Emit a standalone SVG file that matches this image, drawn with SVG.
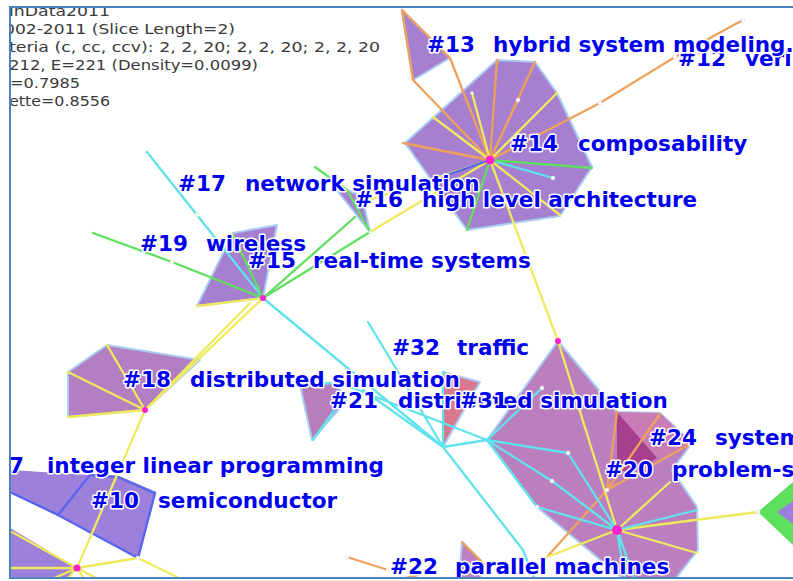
<svg xmlns="http://www.w3.org/2000/svg" width="793" height="581" viewBox="0 0 793 581">
<defs>
<style>
.hull{stroke:#a9cdf2;stroke-width:2;stroke-linejoin:round}
.p1{fill:#a77fd0}.p2{fill:#b47fc2}.p3{fill:#bb7fc0}.p4{fill:#9c80dc}
.e{fill:none;stroke-linecap:round;stroke-linejoin:round;stroke-width:2.3}
.o{stroke:#eea15a}.y{stroke:#efe95e}.c{stroke:#5fe3ec}.g{stroke:#5fe05f}.b{stroke:#5363ec}
.hub{fill:#ff22cc}
.dot{fill:#fff;stroke:#d8d8d8;stroke-width:0.6}
.lbl{font-family:"DejaVu Sans",Verdana,sans-serif;font-weight:bold;font-size:21.5px;fill:#0000ee;stroke:#fff;stroke-width:3;paint-order:stroke;stroke-linejoin:round}
.info{font-family:"DejaVu Sans",sans-serif;font-size:13.5px;fill:#3a3a3a}
.frame{fill:none;stroke:#4f81bd;stroke-width:2}
</style>
<clipPath id="clip"><rect x="11" y="8" width="782" height="569"/></clipPath>
</defs>
<rect width="793" height="581" fill="#fff"/>
<g clip-path="url(#clip)">
<g id="info">
<text class="info" x="9" y="15.5" textLength="101" lengthAdjust="spacingAndGlyphs">inData2011</text>
<text class="info" x="4" y="33.5" textLength="231" lengthAdjust="spacingAndGlyphs">002-2011 (Slice Length=2)</text>
<text class="info" x="9" y="51.5" textLength="371" lengthAdjust="spacingAndGlyphs">teria (c, cc, ccv): 2, 2, 20; 2, 2, 20; 2, 2, 20</text>
<text class="info" x="9" y="69.5" textLength="249" lengthAdjust="spacingAndGlyphs">212, E=221 (Density=0.0099)</text>
<text class="info" x="10" y="87.5" textLength="70" lengthAdjust="spacingAndGlyphs">=0.7985</text>
<text class="info" x="9" y="105.5" textLength="101" lengthAdjust="spacingAndGlyphs">ette=0.8556</text>
</g>
<g id="cluster-13"><polygon class="hull p1" points="402,10 450,58 413,80"/></g>
<g id="cluster-14"><polygon class="hull p1" points="497,60 535,62 557,93 592,167 560,216 467,230 405,143"/></g>
<g id="cluster-16"><polygon class="hull p1" points="332,184 362,196 370,232"/></g>
<g id="cluster-15"><polygon class="hull p1" points="233,233 277,225 263,298 197,306"/></g>
<g id="cluster-18"><polygon class="hull p2" points="107,345 200,360 145,410 68,417 68,372"/></g>
<g id="cluster-21"><polygon class="hull" fill="#b87ebc" points="300,385 336,383 347,400 312,440"/></g>
<g id="cluster-31"><polygon class="hull" fill="#d8798f" points="443,372 480,382 443,447"/></g>
<g id="cluster-20"><polygon class="hull p3" points="558,341 617,412 660,413 692,443 672,470 697,507 698,550 676,578 622,578 537,507 487,440"/></g>
<g id="cluster-24"><polygon fill="#c97db4" points="617,412 660,413 692,443 657,458"/><polygon fill="#a53f8e" points="617,412 657,458 633,472 617,470"/></g>
<g id="cluster-22"><polygon class="hull" fill="#c080c4" points="462,542 484,564 480,578 459,578"/></g>
<g id="cluster-7"><polygon fill="#9c80dc" points="10,470 90,475 58,515 10,493"/></g>
<g id="cluster-10"><polygon fill="#9c80dc" stroke="#5a66ee" stroke-width="2.5" stroke-linejoin="round" points="90,475 118,477 155,493 138,558 58,515"/></g>
<g id="cluster-bl"><polygon fill="#9c80dc" points="10,528 77,568 68,578 10,578"/></g>
<g id="cluster-right"><polygon fill="#5ee05e" points="758,512 793,482 793,545"/><polygon fill="#9a80dc" points="777,512 793,501 793,524"/></g>

<g id="connectors">
<path class="e o" d="M490,160L403,143M490,160L450,58M490,160L413,80M402,10L450,58M402,10L413,80M490,160L497,60M490,160L535,62M490,160L518,100M490,160L600,103"/>
<path class="e o" stroke-width="3" d="M600,103L675,57L743,20"/>
<path class="e o" stroke-width="2.5" d="M607,490L617,412M607,490L547,557"/>
<path class="e o" stroke-width="4.5" d="M607,490L660,414M607,490L692,443"/>
<path class="e o" stroke-width="3" d="M347,557L388,570M405,578L418,575"/>
<path class="e o" d="M462,542L484,564"/>
<path class="e y" d="M490,160L472,93M490,160L557,93M490,160L433,117M490,160L560,215M490,160L558,341L617,530M490,160L370,232M490,160L360,203"/>
<path class="e y" d="M263,298L145,410M250,303L145,410M263,298L197,306M145,410L107,345M145,410L68,372M145,410L68,417M145,410L77,568"/>
<path class="e y" d="M77,568L12,532M77,568L12,568M77,568L138,558M138,558L183,580M77,568L50,580M77,568L66,580M77,568L85,580M77,568L100,580"/>
<path class="e y" d="M617,530L670,482M617,530L758,512M617,530L697,553M617,530L547,557"/>
<path class="e c" stroke-width="3.5" d="M147,152L197,215"/>
<path class="e c" d="M197,215L263,298L443,447M368,322L443,447M363,390L443,447M345,385L487,440M443,447L487,440M443,447L523,550L535,580M443,372L443,447"/>
<path class="e c" d="M487,440L542,388M487,440L568,453L617,530M487,440L552,481L617,530M487,440L537,507L617,530M617,530L697,510M617,530L625,580M617,530L635,580M490,160L553,178M313,440L345,395M300,386L330,383"/>
<path class="e g" d="M490,160L592,168M490,160L467,230M172,262L263,298M263,298L370,232M263,298L355,217M263,298L233,235"/>
<path class="e g" stroke-width="4" d="M93,233L172,262M315,167L347,190"/>
<path class="e g" stroke-width="2.5" d="M347,190L370,232"/>
<path class="e b" d="M490,160L447,175M12,493L58,515"/>
</g>

<g id="nodes">
<circle class="dot" cx="518" cy="100" r="2"/><circle class="dot" cx="553" cy="178" r="2"/>
<circle class="dot" cx="600" cy="103" r="2"/><circle class="dot" cx="675" cy="57" r="2"/>
<circle class="dot" cx="743" cy="20" r="2"/><circle class="dot" cx="542" cy="388" r="2"/>
<circle class="dot" cx="568" cy="453" r="2"/><circle class="dot" cx="552" cy="481" r="2"/>
<circle class="dot" cx="607" cy="490" r="2"/><circle class="dot" cx="537" cy="507" r="2"/>
<circle class="dot" cx="197" cy="215" r="2"/><circle class="dot" cx="172" cy="262" r="2"/>
<circle class="dot" cx="758" cy="512" r="2"/><circle class="dot" cx="138" cy="558" r="2"/>
<circle class="dot" cx="347" cy="557" r="2"/><circle class="dot" cx="388" cy="570" r="2"/>
<circle class="dot" cx="472" cy="93" r="1.5"/><circle class="dot" cx="370" cy="232" r="1.5"/>
<circle class="hub" cx="490" cy="160" r="4.5"/>
<circle class="hub" cx="263" cy="298" r="3"/>
<circle class="hub" cx="145" cy="410" r="3"/>
<circle class="hub" cx="77" cy="568" r="3.5"/>
<circle class="hub" cx="558" cy="341" r="3"/>
<circle class="hub" cx="617" cy="530" r="5"/>
</g>

<g id="labels">
<g id="label-12"><text class="lbl" x="678" y="66">#12<tspan x="745">veri</tspan></text></g>
<g id="label-13"><text class="lbl" x="427" y="52">#13<tspan x="493">hybrid system modeling.</tspan></text></g>
<g id="label-14"><text class="lbl" x="510" y="151">#14<tspan x="578">composability</tspan></text></g>
<g id="label-17"><text class="lbl" x="178" y="191">#17<tspan x="245">network simulation</tspan></text></g>
<g id="label-16"><text class="lbl" x="355" y="207">#16<tspan x="422">high level architecture</tspan></text></g>
<g id="label-19"><text class="lbl" x="140" y="251">#19<tspan x="206">wireless</tspan></text></g>
<g id="label-15"><text class="lbl" x="248" y="268">#15<tspan x="313">real-time systems</tspan></text></g>
<g id="label-32"><text class="lbl" x="392" y="355">#32<tspan x="457">traffic</tspan></text></g>
<g id="label-21"><text class="lbl" x="330" y="408">#21<tspan x="398">distributed simulation</tspan></text></g>
<g id="label-31"><text class="lbl" x="460" y="408">#31</text></g>
<g id="label-18"><text class="lbl" x="123" y="387">#18<tspan x="190">distributed simulation</tspan></text></g>
<g id="label-24"><text class="lbl" x="649" y="445">#24<tspan x="715">system</tspan></text></g>
<g id="label-20"><text class="lbl" x="605" y="477">#20<tspan x="672">problem-s</tspan></text></g>
<g id="label-7"><text class="lbl" x="-9" y="473">#7<tspan x="47">integer linear programming</tspan></text></g>
<g id="label-10"><text class="lbl" x="91" y="508">#10<tspan x="158">semiconductor</tspan></text></g>
<g id="label-22"><text class="lbl" x="390" y="574">#22<tspan x="455">parallel machines</tspan></text></g>
</g>
</g>
<path class="frame" d="M793,7H10V578H793"/>
</svg>
